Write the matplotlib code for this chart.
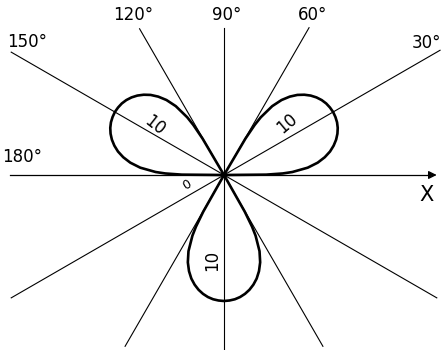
import numpy as np
import matplotlib
matplotlib.use('Agg')
import matplotlib.pyplot as plt

plt.rcParams['font.family'] = ['Liberation Sans Narrow', 'DejaVu Sans']

# lobe profile: radius vs angle from the lobe axis (deg)
lobe_phi = [-30, -29.5, -28.5, -27.5, -25, -22.5, -20, -17.5, -15, -12.5, -10, -7.5, -5, -2.5,
            0, 2.5, 5, 7.5, 10, 12.5, 15, 17.5, 20, 22.5, 25, 27.5, 28.5, 29.5, 30]
lobe_r = [0, 3.35, 4.66, 5.43, 6.67, 7.50, 8.12, 8.62, 9.01, 9.33, 9.58, 9.77, 9.90, 9.97,
          10.0, 9.97, 9.90, 9.77, 9.58, 9.33, 9.01, 8.62, 8.12, 7.50, 6.67, 5.43, 4.66, 3.35, 0]
lobe_axes = [30, 150, 270]
lobe_labels = ['10', '10', '10']

# reference lines through the origin and how far they run
ray_angles = [30, 60, 90, 120, 150, 210, 240, 270, 300, 330]
ray_lengths = [19.8, 13.5, 11.7, 13.4, 19.5, 19.5, 15.7, 14.0, 15.7, 19.5]
angle_labels = ['180°', '150°', '120°', '90°', '60°', '30°']

fig = plt.figure(figsize=(4.41, 3.5), dpi=100)
ax = fig.add_axes([0, 0, 1, 1])
ax.set_xlim(-224 / 12.6, 217 / 12.6)
ax.set_ylim(-175 / 12.6, 175 / 12.6)
ax.set_aspect('equal')
ax.axis('off')

for a, L in zip(ray_angles, ray_lengths):
    t = np.radians(a)
    ax.plot([0, L * np.cos(t)], [0, L * np.sin(t)], color='black', lw=0.8)

# x axis with arrow
ax.plot([-17.0, 16.5], [0, 0], color='black', lw=0.9)
ax.annotate('', xy=(17.1, 0), xytext=(16.0, 0),
            arrowprops=dict(arrowstyle='-|>', color='black', lw=0.9, mutation_scale=12))

phi = np.radians(lobe_phi)
r = np.array(lobe_r)
for a in lobe_axes:
    t = phi + np.radians(a)
    ax.plot(r * np.cos(t), r * np.sin(t), color='black', lw=1.9, solid_joinstyle='round')

fs = 12
lab_pos = [(-16.0, 1.45, 'center'), (-15.6, 10.55, 'center'), (-7.2, 12.7, 'center'),
           (0.25, 12.7, 'center'), (7.0, 12.7, 'center'), (17.2, 10.5, 'right')]
for s, (x, y, ha) in zip(angle_labels, lab_pos):
    ax.text(x, y, s, fontsize=fs, ha=ha, va='center')

ax.text(16.1, -1.6, 'X', fontsize=15, ha='center', va='center')
ax.text(-2.95, -0.8, '0', fontsize=9, ha='center', va='center', rotation=30)

lobe_text = [(-5.5, 3.95, -38), (5.0, 4.1, 40), (-0.95, -6.75, 90)]
for s, (x, y, rot) in zip(lobe_labels, lobe_text):
    ax.text(x, y, s, fontsize=fs, ha='center', va='center', rotation=rot)

fig.savefig('out.png', dpi=100)
